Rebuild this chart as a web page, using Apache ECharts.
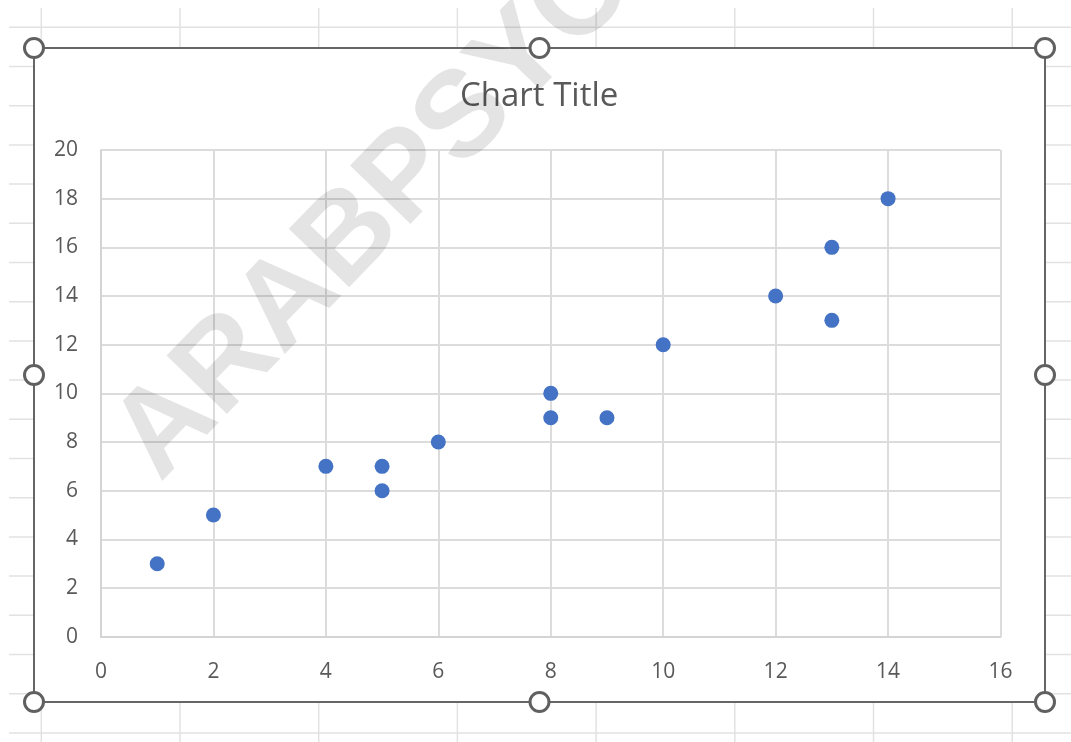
<!DOCTYPE html>
<html>
<head>
<meta charset="utf-8">
<script src="https://cdn.jsdelivr.net/npm/echarts@6/dist/echarts.min.js"></script>
<style>
  html, body { margin: 0; padding: 0; background: #fff; }
  #chart { width: 1071px; height: 742px; }
</style>
</head>
<body>
<div id="chart"></div>
<script>
// Scatter data: x and y values of each point
const xValues = [1, 2, 4, 5, 5, 6, 8, 8, 9, 10, 12, 13, 13, 14];
const yValues = [3, 5, 7, 7, 6, 8, 10, 9, 9, 12, 14, 16, 13, 18];
const xTicks = [0, 2, 4, 6, 8, 10, 12, 14, 16];
const yTicks = [0, 2, 4, 6, 8, 10, 12, 14, 16, 18, 20];
const chartTitle = 'Chart Title';
const watermarkText = 'ARABPSYCHOLOGY';

const points = xValues.map((x, i) => [x, yValues[i]]);

const W = 1071, H = 742;
const FONT = '"Open Sans", "Noto Sans", sans-serif';
const LABEL = '#595959';

// Worksheet cell lines behind the chart object
const sheet = [];
const sheetLine = '#e2e2e2';
for (let k = 0; k <= 18; k++) {
  const y = 27.3 + 39.2 * k;
  sheet.push({ type: 'line', z: -10, silent: true,
    shape: { x1: 9, y1: y, x2: W, y2: y },
    style: { stroke: sheetLine, lineWidth: 1.5 } });
}
for (let k = 0; k <= 7; k++) {
  const x = 41.3 + 138.7 * k;
  sheet.push({ type: 'line', z: -10, silent: true,
    shape: { x1: x, y1: 8, x2: x, y2: H },
    style: { stroke: sheetLine, lineWidth: 1.5 } });
}

// Chart object box with its selection frame and sizing handles
const box = { x: 34, y: 48, w: 1011, h: 654 };
const chartArea = { type: 'rect', z: -9, silent: true,
  shape: { x: box.x, y: box.y, width: box.w, height: box.h },
  style: { fill: '#ffffff' } };
const frame = { type: 'rect', z: 100, silent: true,
  shape: { x: box.x, y: box.y, width: box.w, height: box.h },
  style: { fill: null, stroke: '#666666', lineWidth: 2 } };
const handles = [];
const hx = [box.x, box.x + box.w / 2, box.x + box.w];
const hy = [box.y, box.y + box.h / 2, box.y + box.h];
hy.forEach((y, j) => hx.forEach((x, i) => {
  if (i === 1 && j === 1) return;
  handles.push({ type: 'circle', z: 101, silent: true,
    shape: { cx: x, cy: y, r: 9.5 },
    style: { fill: '#ffffff', stroke: '#606060', lineWidth: 3 } });
}));

// Diagonal watermark
const ang = 46 * Math.PI / 180;
const watermark = { type: 'text', z: 200, silent: true,
  x: 166 - 42 * Math.sin(ang), y: 489 - 42 * Math.cos(ang),
  rotation: ang,
  style: { text: watermarkText, fill: 'rgba(0,0,0,0.105)',
    font: 'bold 122px "Liberation Sans", Arial, sans-serif',
    textAlign: 'left', textVerticalAlign: 'middle' } };

const chart = echarts.init(document.getElementById('chart'), null, { renderer: 'canvas' });
chart.setOption({
  backgroundColor: '#ffffff',
  animation: false,
  title: {
    text: chartTitle,
    left: 455,
    top: 75,
    textStyle: { fontFamily: FONT, fontSize: 33, fontWeight: 'normal', color: LABEL }
  },
  grid: { left: 101, right: 70.5, top: 150, bottom: 105.3, containLabel: false },
  xAxis: {
    type: 'value', min: xTicks[0], max: xTicks[xTicks.length - 1], interval: 2,
    axisLine: { show: true, lineStyle: { color: '#d4d4d4', width: 2 } },
    axisTick: { show: false },
    axisLabel: { margin: 25, color: LABEL, fontFamily: FONT, fontSize: 21 },
    splitLine: { show: true, lineStyle: { color: '#dcdcdc', width: 2 } }
  },
  yAxis: {
    type: 'value', min: yTicks[0], max: yTicks[yTicks.length - 1], interval: 2,
    axisLine: { show: true, lineStyle: { color: '#d4d4d4', width: 2 } },
    axisTick: { show: false },
    axisLabel: { margin: 23, color: LABEL, fontFamily: FONT, fontSize: 21, padding: [3, 0, 0, 0] },
    splitLine: { show: true, lineStyle: { color: '#dcdcdc', width: 2 } }
  },
  series: [{
    type: 'scatter',
    data: points,
    symbol: 'circle',
    symbolSize: 15,
    itemStyle: { color: '#4472C4', opacity: 1 }
  }],
  graphic: [...sheet, chartArea, frame, ...handles, watermark]
});
</script>
</body>
</html>
